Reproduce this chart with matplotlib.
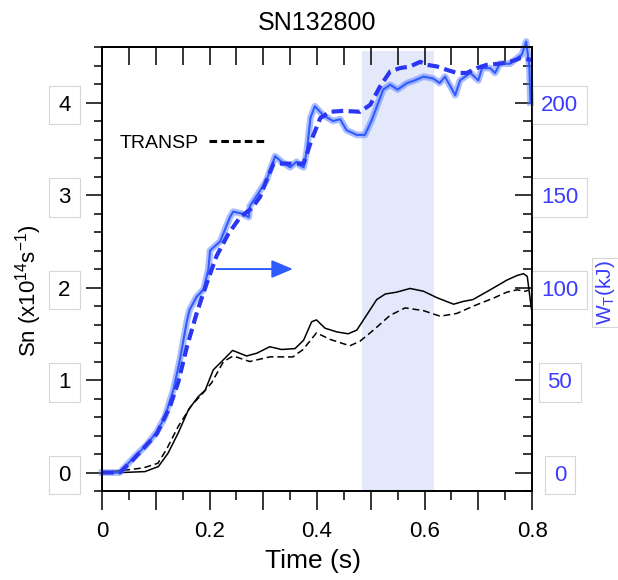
import numpy as np
import matplotlib
matplotlib.use("Agg")
import matplotlib.pyplot as plt
from matplotlib.lines import Line2D
from matplotlib.ticker import MultipleLocator

plt.rcParams['font.family'] = ['Liberation Sans', 'DejaVu Sans']
plt.rcParams['mathtext.default'] = 'regular'

# -- Data ------------------------------------------------------------------
title = "SN132800"

# neutron rate, measured (black solid), 1e14 /s
t_sn = [0, 0.037, 0.08, 0.105, 0.123, 0.142, 0.161, 0.179, 0.192, 0.207,
        0.226, 0.243, 0.269, 0.288, 0.312, 0.334, 0.359, 0.375, 0.390, 0.399,
        0.415, 0.437, 0.458, 0.474, 0.492, 0.511, 0.527, 0.548, 0.573, 0.598,
        0.623, 0.654, 0.672, 0.690, 0.722, 0.753, 0.772, 0.784, 0.791, 0.799]
sn_meas = [0, 0.0, 0.01, 0.065, 0.21, 0.43, 0.68, 0.82, 0.89, 1.11,
           1.22, 1.32, 1.26, 1.29, 1.36, 1.33, 1.34, 1.43, 1.63, 1.65,
           1.56, 1.52, 1.50, 1.54, 1.70, 1.87, 1.93, 1.95, 1.99, 1.96,
           1.89, 1.82, 1.85, 1.87, 1.975, 2.08, 2.13, 2.15, 2.12, 1.76]

# neutron rate, TRANSP (black dashed)
t_sn_transp = [0, 0.049, 0.077, 0.104, 0.12, 0.142, 0.167, 0.185, 0.204, 0.226,
               0.244, 0.275, 0.312, 0.355, 0.374, 0.399, 0.424, 0.461, 0.480,
               0.505, 0.536, 0.564, 0.598, 0.629, 0.660, 0.691, 0.728, 0.753,
               0.772, 0.787, 0.793]
sn_transp = [0, 0.03, 0.05, 0.10, 0.25, 0.50, 0.73, 0.84, 0.97, 1.20,
             1.26, 1.20, 1.25, 1.25, 1.33, 1.51, 1.44, 1.37, 1.42,
             1.54, 1.70, 1.78, 1.75, 1.69, 1.72, 1.80, 1.885, 1.95,
             1.975, 1.96, 1.97]

# stored energy, measured (blue solid), kJ
t_wt = [0, 0.033, 0.058, 0.083, 0.102, 0.117, 0.133, 0.145, 0.158, 0.163,
        0.176, 0.189, 0.198, 0.201, 0.220, 0.238, 0.244, 0.260, 0.273, 0.275,
        0.291, 0.306, 0.322, 0.334, 0.350, 0.362, 0.368, 0.375, 0.381, 0.388,
        0.396, 0.412, 0.430, 0.443, 0.455, 0.474, 0.489, 0.502, 0.523, 0.536,
        0.550, 0.567, 0.582, 0.598, 0.616, 0.628, 0.638, 0.657, 0.666, 0.685,
        0.700, 0.707, 0.722, 0.731, 0.740, 0.759, 0.772, 0.781, 0.789, 0.795,
        0.797]
wt_meas = [0, 0, 7.8, 15, 22, 30, 45, 61, 82, 88,
           95, 99, 110, 120, 125, 138, 141, 140, 138, 144,
           151, 158, 171, 168, 165, 168, 166, 165, 174, 192,
           198, 193, 190, 191, 185, 182.5, 182.5, 190.6, 207, 209.6,
           207, 210.5, 212, 214, 213, 210.5, 214, 204, 212, 216,
           212, 218.6, 218.6, 216, 221, 221, 224, 226, 233, 219,
           200]

# stored energy, TRANSP (blue dashed)
t_wt_transp = [0, 0.033, 0.058, 0.102, 0.1265, 0.142, 0.158, 0.176, 0.192,
               0.213, 0.235, 0.257, 0.279, 0.294, 0.306, 0.319, 0.350, 0.375,
               0.390, 0.406, 0.424, 0.449, 0.480, 0.499, 0.517, 0.536, 0.554,
               0.573, 0.592, 0.604, 0.623, 0.641, 0.660, 0.679, 0.697, 0.716,
               0.740, 0.759, 0.778, 0.800]
wt_transp = [0, 0, 7, 21, 35.7, 49, 68, 86, 100,
             117, 129, 138, 143, 149, 158, 167, 167, 167,
             180, 191.6, 195, 195.5, 195, 198.8, 208.6, 216.8, 218.6,
             219.5, 222, 220.4, 219.5, 217.7, 216, 216, 218.6, 220.4,
             221, 222, 224, 223]

# analysis window (light blue band)
window = (0.483, 0.617)

x_ticks = [0, 0.1, 0.2, 0.3, 0.4, 0.5, 0.6, 0.7, 0.8]
x_tick_labels = ['0', '', '0.2', '', '0.4', '', '0.6', '', '0.8']
sn_ticks = [0, 1, 2, 3, 4]
wt_ticks = [0, 50, 100, 150, 200]

# -- Styling ---------------------------------------------------------------
BLUE_LINE = '#2f5bff'
BLUE_DASH = '#2a36f2'
BLUE_TEXT = '#3b3bff'
SHADE = '#e3e9fb'
BOX = dict(boxstyle='square,pad=0.4', fc='none', ec='#d6d6d6', lw=0.8)

fig = plt.figure(figsize=(6.18, 5.8), dpi=100)
ax = fig.add_axes([0.165, 0.1534, 0.696, 0.7655])
ax2 = ax.twinx()

ax.axvspan(*window, ymin=0, ymax=0.99, color=SHADE, lw=0, zorder=0)

ax.plot(t_sn, sn_meas, color='black', lw=1.1, zorder=3)
ax.plot(t_sn_transp, sn_transp, color='black', lw=1.1, dashes=(4.5, 2.5),
        zorder=3)

# measured W_T: soft halo plus core line
ax2.plot(t_wt, wt_meas, color='#5a7dff', lw=4.8, alpha=0.5,
         solid_joinstyle='round', clip_on=False)
ax2.plot(t_wt, wt_meas, color=BLUE_LINE, lw=1.5, clip_on=False)
ax2.plot(t_wt_transp, wt_transp, color=BLUE_DASH, lw=3.0, dashes=(2.8, 1.3))

ax.set_xlim(0, 0.8)
ax.set_ylim(-0.2, 4.6)
ax2.set_ylim(-10, 230)

# arrow pointing to the right-hand axis
ax.annotate('', xy=(0.355, 2.20), xytext=(0.213, 2.20),
            arrowprops=dict(arrowstyle='-|>,head_length=1.3,head_width=0.55',
                            color=BLUE_LINE, lw=1.4, mutation_scale=10,
                            shrinkA=0, shrinkB=0))

# legend: text first, dashed sample after
proxy = Line2D([], [], color='black', lw=2.2, dashes=(2.5, 1.35))
ax2.legend([proxy], ['TRANSP'], loc='center left',
           bbox_to_anchor=(0.042, 0.784), frameon=False, markerfirst=False,
           handlelength=3.0, handletextpad=0.5, borderpad=0,
           borderaxespad=0, fontsize=14)

# -- Axes / ticks ----------------------------------------------------------
for a in (ax, ax2):
    for s in a.spines.values():
        s.set_linewidth(1.2)

ax.set_xticks(x_ticks, labels=x_tick_labels)
ax.xaxis.set_minor_locator(MultipleLocator(0.05))
ax.tick_params(axis='x', which='major', direction='out', length=13.5,
               width=1.1, labelsize=16, pad=8, top=False)
ax.tick_params(axis='x', which='minor', direction='out', length=6.5,
               width=1.1, top=False)

top = ax.secondary_xaxis('top')
top.xaxis.set_major_locator(MultipleLocator(0.05))
top.tick_params(direction='in', length=13, width=1.1, labeltop=False)
top.spines['top'].set_linewidth(1.2)

ax.set_yticks(sn_ticks)
ax.yaxis.set_minor_locator(MultipleLocator(0.2))
ax.tick_params(axis='y', which='major', direction='out', length=11.5,
               width=1.1, labelsize=16, pad=11, right=False)
ax.tick_params(axis='y', which='minor', direction='out', length=6,
               width=1.1, right=False)

ax2.set_yticks(wt_ticks)
ax2.yaxis.set_minor_locator(MultipleLocator(10))
ax2.tick_params(axis='y', which='major', direction='in', length=12,
                width=1.1, labelsize=16, pad=20, labelcolor=BLUE_TEXT)
ax2.tick_params(axis='y', which='minor', direction='in', length=6.5,
                width=1.1)

for tl in ax.get_yticklabels():
    tl.set_bbox(BOX)
for tl in ax2.get_yticklabels():
    tl.set_bbox(BOX)
    tl.set_horizontalalignment('center')

ax.set_xlabel('Time (s)', fontsize=19)
ax.xaxis.set_label_coords(0.49, -0.13)
ax.set_ylabel('Sn (x10$^{14}$s$^{-1}$)', fontsize=16)
ax.yaxis.set_label_coords(-0.135, 0.45)
ax2.set_ylabel('W$_T$(kJ)', fontsize=15, color=BLUE_TEXT,
               bbox=dict(boxstyle='square,pad=0.1', fc='none',
                         ec='#d6d6d6', lw=0.8))
ax2.yaxis.set_label_coords(1.143, 0.448)

fig.text(317 / 618, 1 - 22.5 / 580, title, ha='center', va='center',
         fontsize=18)

fig.savefig('out.png', dpi=100)
